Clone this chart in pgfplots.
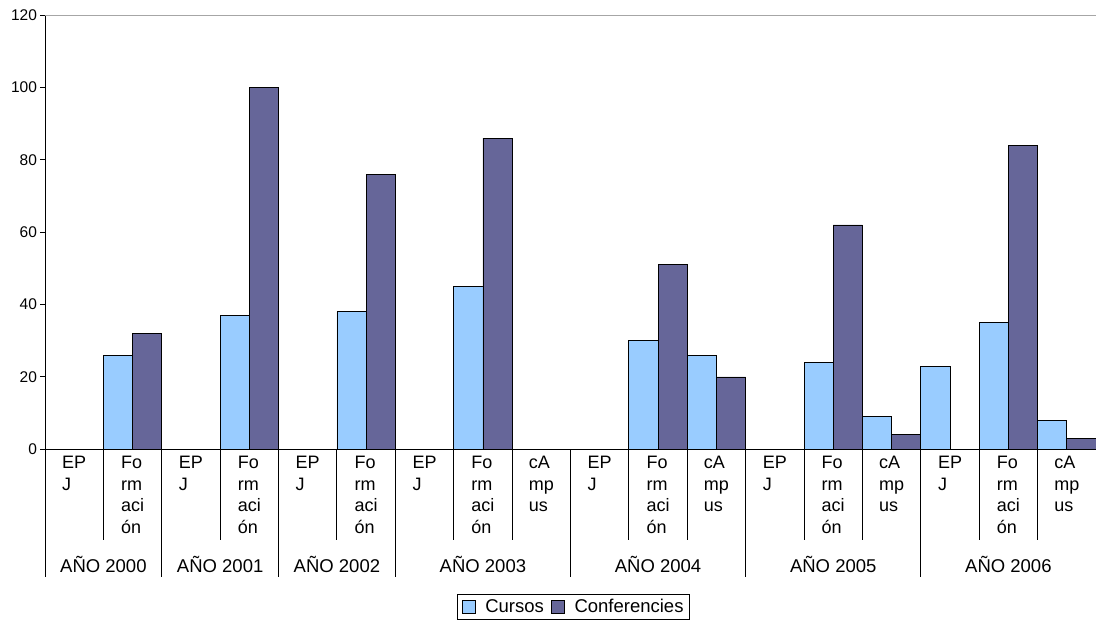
\documentclass[border=0pt]{standalone}
\usepackage{pgfplots}
\pgfplotsset{compat=1.18}
\usepackage{fontspec}
\setmainfont{Liberation Sans}
\definecolor{cursos}{HTML}{99CCFF}
\definecolor{conf}{HTML}{666699}

\begin{document}
\begin{tikzpicture}
\begin{axis}[
  at={(0pt,0pt)}, anchor=south west,
  scale only axis, width=1051pt, height=434.3pt,
  xmin=-0.5, xmax=17.5, ymin=0, ymax=120,
  axis x line*=bottom, axis y line*=left,
  axis line style={black, line width=0.9pt},
  ytick={0,20,...,120},
  ytick style={black, line width=0.9pt},
  tick align=outside, major tick length=4.5pt,
  /pgf/number format/assume math mode=true,
  yticklabel style={font=\fontsize{15.5}{18}\selectfont},
  xtick={0,...,17},
  xtick style={draw=none},
  xticklabels={{EP\\J},{Fo\\rm\\aci\\ón},{EP\\J},{Fo\\rm\\aci\\ón},{EP\\J},{Fo\\rm\\aci\\ón},{EP\\J},{Fo\\rm\\aci\\ón},{cA\\mp\\us},{EP\\J},{Fo\\rm\\aci\\ón},{cA\\mp\\us},{EP\\J},{Fo\\rm\\aci\\ón},{cA\\mp\\us},{EP\\J},{Fo\\rm\\aci\\ón},{cA\\mp\\us}},
  xticklabel style={font=\fontsize{18}{21.7}\selectfont, align=left, anchor=north, inner sep=0pt, yshift=-2pt},
  ybar, bar width=0.5,
  clip=false,
  legend style={at={(0.503,0)}, anchor=north, yshift=-144.7pt, legend columns=2,
    draw=black, line width=0.6pt, font=\fontsize{18.5}{21}\selectfont, inner xsep=4pt, inner ysep=3pt,
    /tikz/every odd column/.append style={column sep=8pt},
    /tikz/every even column/.append style={column sep=5pt}},
  legend image code/.code={\draw[#1, line width=0.6pt] (0pt,-6.5pt) rectangle (13pt,6.5pt);},
]
\addplot[fill=cursos, draw=black, line width=0.8pt, bar shift=-0.25] coordinates {
  (1,26) (3,37) (5,38) (7,45) (10,30) (11,26) (13,24) (14,9) (15,23) (16,35) (17,8)};
\addplot[fill=conf, draw=black, line width=0.8pt, bar shift=0.25] coordinates {
  (1,32) (3,100) (5,76) (7,86) (10,51) (11,20) (13,62) (14,4) (16,84) (17,3)};
\legend{Cursos, Conferencies}
\draw[color=gray!70, line width=0.9pt] (axis cs:-0.5,120) -- (axis cs:17.5,120);
\pgfplotsinvokeforeach{-0.5,1.5,3.5,5.5,8.5,11.5,14.5,17.5}{
  \draw[black, line width=0.9pt] (axis cs:#1,0) -- ++(0pt,-127.7pt);
}
\pgfplotsinvokeforeach{0.5,2.5,4.5,6.5,7.5,9.5,10.5,12.5,13.5,15.5,16.5}{
  \draw[black, line width=0.9pt] (axis cs:#1,0) -- ++(0pt,-90.7pt);
}
\node[anchor=base, yshift=-122.7pt, font=\fontsize{18.5}{21}\selectfont] at (axis cs:0.5,0) {AÑO 2000};
\node[anchor=base, yshift=-122.7pt, font=\fontsize{18.5}{21}\selectfont] at (axis cs:2.5,0) {AÑO 2001};
\node[anchor=base, yshift=-122.7pt, font=\fontsize{18.5}{21}\selectfont] at (axis cs:4.5,0) {AÑO 2002};
\node[anchor=base, yshift=-122.7pt, font=\fontsize{18.5}{21}\selectfont] at (axis cs:7,0) {AÑO 2003};
\node[anchor=base, yshift=-122.7pt, font=\fontsize{18.5}{21}\selectfont] at (axis cs:10,0) {AÑO 2004};
\node[anchor=base, yshift=-122.7pt, font=\fontsize{18.5}{21}\selectfont] at (axis cs:13,0) {AÑO 2005};
\node[anchor=base, yshift=-122.7pt, font=\fontsize{18.5}{21}\selectfont] at (axis cs:16,0) {AÑO 2006};
\end{axis}
\pgfresetboundingbox
\path[use as bounding box] (-45pt,-174.7pt) rectangle (1051pt,449.3pt);
\end{tikzpicture}
\end{document}
